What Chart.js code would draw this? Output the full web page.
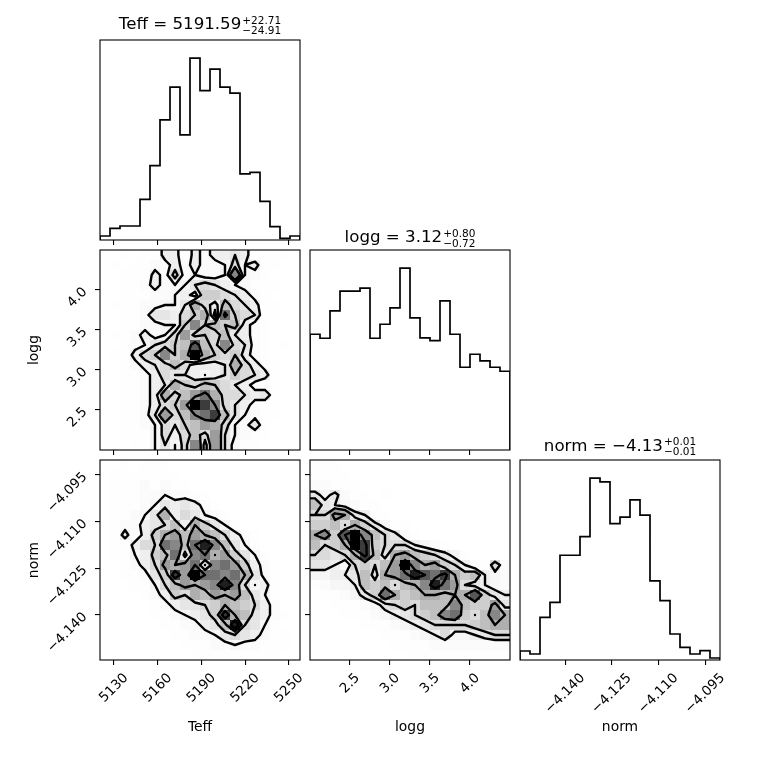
<!DOCTYPE html>
<html>
<head>
<meta charset="utf-8">
<script src="https://cdn.jsdelivr.net/npm/chart.js@4.4.0/dist/chart.umd.min.js"></script>
<style>
  html, body { margin: 0; padding: 0; background: #fff; }
  #wrap { position: relative; width: 760px; height: 760px; }
  #wrap canvas { position: absolute; left: 0; top: 0; }
</style>
</head>
<body>
<div id="wrap"></div>
<script>
// parameter names, axis ranges and ticks
const names = ["Teff", "logg", "norm"];
const ranges = [[5120.4, 5257.6], [2.0, 4.5], [-4.1545, -4.0902]];
const tickValues = [
  [5130, 5160, 5190, 5220, 5250],
  [2.5, 3.0, 3.5, 4.0],
  [-4.140, -4.125, -4.110, -4.095]
];
const tickLabels = [
  ["5130", "5160", "5190", "5220", "5250"],
  ["2.5", "3.0", "3.5", "4.0"],
  ["\u22124.140", "\u22124.125", "\u22124.110", "\u22124.095"]
];
const titleMain = ["Teff = 5191.59", "logg = 3.12", "norm = \u22124.13"];
const titleUp = ["+22.71", "+0.80", "+0.01"];
const titleDown = ["\u221224.91", "\u22120.72", "\u22120.01"];

// 1D histograms, 20 bins each
const teffHist = [12, 35, 42, 42, 122, 223, 360, 458, 315, 545, 448, 512, 458, 440, 198, 203, 116, 40, 5, 12];
const loggHist = [347, 335, 417, 476, 476, 485, 335, 377, 426, 545, 396, 336, 328, 447, 347, 248, 287, 267, 248, 236];
const normHist = [27, 18, 128, 173, 314, 314, 370, 545, 534, 409, 428, 480, 434, 237, 178, 78, 38, 18, 28, 6];

// 2D histograms, rows from top (high y) to bottom, columns left to right
const teffLoggGrid = [
  [0,0,1,0,1,1,4,4,1,4,2,4,4,5,4,1,1,1,1,0],
  [0,1,0,1,1,2,2,4,2,4,2,2,3,6,3,4,1,1,0,0],
  [0,0,1,1,1,4,2,6,2,3,2,2,3,11,3,2,1,0,0,0],
  [0,0,1,1,2,4,2,3,3,5,6,5,4,3,2,1,1,1,0,0],
  [0,0,1,1,1,2,2,3,4,2,7,7,6,5,4,2,1,0,0,0],
  [0,1,1,1,2,2,3,3,5,9,6,4,8,6,5,4,1,1,0,0],
  [0,0,1,1,2,5,5,4,6,7,9,2,12,7,6,5,1,1,0,0],
  [0,0,1,1,2,2,3,3,7,11,7,8,7,8,4,2,1,0,0,0],
  [0,1,1,2,4,2,3,6,10,6,7,6,8,5,4,2,1,0,0,0],
  [0,0,1,2,3,5,6,7,8,13,8,6,11,6,5,2,1,0,1,0],
  [0,1,1,4,6,7,11,7,9,16,9,7,6,7,4,2,1,0,0,0],
  [0,0,1,2,4,5,6,8,6,4,4,4,5,9,6,4,2,1,0,0],
  [0,0,1,1,2,4,6,5,5,4,3,4,5,7,6,5,4,1,0,0],
  [0,0,1,1,2,4,5,9,7,6,8,7,6,5,4,2,1,1,0,0],
  [0,0,1,1,2,4,9,6,8,10,12,9,6,6,5,4,5,1,0,0],
  [0,0,1,1,2,4,6,7,10,16,14,11,6,5,4,2,1,1,0,0],
  [0,0,1,1,2,5,10,6,8,11,12,14,8,5,3,2,1,1,0,0],
  [0,0,1,1,2,3,6,5,7,8,10,9,6,3,2,5,1,0,0,0],
  [0,0,1,1,1,3,6,4,6,8,6,10,5,3,2,1,1,0,0,0],
  [0,0,0,1,1,3,5,3,6,11,4,10,5,2,1,1,0,0,0,0]
];
const teffNormGrid = [
  [0,0,1,0,1,1,1,0,0,0,0,0,0,0,0,0,0,0,0,0],
  [0,1,1,1,1,1,1,1,0,0,0,0,0,0,0,0,0,0,0,0],
  [0,1,1,1,2,1,2,1,1,0,0,0,0,0,0,0,0,0,0,0],
  [0,1,1,1,2,2,3,2,2,1,1,0,0,0,0,0,0,0,0,0],
  [0,1,1,1,2,3,5,4,5,4,2,1,0,0,0,0,0,0,0,0],
  [0,1,1,2,3,5,9,4,6,5,3,2,1,0,0,0,0,0,0,0],
  [0,1,2,2,4,5,6,8,4,9,7,5,3,1,0,0,0,0,0,0],
  [0,1,4,1,4,7,9,10,8,10,9,8,6,4,2,1,0,0,0,0],
  [0,1,1,4,6,6,12,11,8,12,15,11,8,5,3,1,0,0,0,0],
  [0,1,1,3,4,7,8,12,5,11,12,9,10,7,5,3,1,0,0,0],
  [0,0,1,2,4,6,10,9,10,12,6,11,12,10,7,4,2,1,0,0],
  [0,0,1,1,2,5,7,14,10,16,12,12,11,12,9,5,2,1,0,0],
  [0,0,0,1,1,3,6,8,10,9,10,11,15,11,6,3,4,1,0,0],
  [0,0,0,0,1,2,4,7,6,9,8,10,9,10,8,5,3,1,0,0],
  [0,0,0,0,0,1,2,4,5,5,6,7,9,8,7,6,4,2,0,0],
  [0,0,0,0,0,1,1,2,3,4,5,7,14,9,8,5,4,2,1,0],
  [0,0,0,0,0,0,1,1,2,2,4,5,8,15,6,5,3,1,0,0],
  [0,0,0,0,0,0,0,1,1,2,2,3,5,6,5,4,2,1,1,0],
  [0,0,0,0,0,0,0,0,1,1,1,2,2,3,2,2,1,1,1,0],
  [0,0,0,0,0,0,0,0,0,1,1,1,1,1,1,1,1,1,0,0]
];
const loggNormGrid = [
  [1,1,1,0,0,0,0,0,0,0,0,0,0,0,0,0,0,0,0,0],
  [1,1,1,1,0,0,0,0,0,0,0,0,0,0,0,0,0,0,0,0],
  [2,2,1,1,1,0,0,0,0,0,0,0,0,0,0,0,0,0,0,0],
  [5,3,5,2,1,1,0,1,0,0,0,0,0,0,0,0,0,0,0,0],
  [8,5,4,3,2,1,1,0,0,0,0,0,0,0,0,0,0,0,0,0],
  [6,6,10,9,5,4,1,1,0,0,0,0,0,0,0,0,0,0,0,0],
  [7,7,8,6,9,7,5,3,1,1,0,0,0,0,0,0,0,0,0,0],
  [9,11,7,13,16,11,8,6,5,2,1,0,0,0,0,0,0,0,0,0],
  [8,6,7,9,16,14,7,6,6,6,4,3,2,1,0,0,0,0,0,0],
  [6,6,5,6,9,14,8,5,9,10,8,7,6,5,3,1,0,0,0,0],
  [5,5,4,2,6,7,6,8,10,16,11,9,10,7,6,4,2,1,6,2],
  [3,3,4,4,5,8,5,9,10,12,15,13,12,14,9,7,8,4,3,2],
  [1,2,3,3,4,8,7,8,6,8,9,11,15,12,10,6,5,4,3,2],
  [0,1,1,2,3,5,7,12,9,7,8,9,9,8,9,9,13,7,5,4],
  [0,0,1,1,1,2,3,5,6,7,6,8,8,8,11,8,7,7,10,5],
  [0,0,0,1,1,1,2,3,4,5,6,7,8,11,12,7,6,8,11,9],
  [0,0,0,0,0,1,1,1,2,3,4,5,6,6,6,6,7,8,9,9],
  [0,0,0,0,0,0,0,1,1,1,2,3,4,6,3,3,4,5,6,6],
  [0,0,0,0,0,0,0,0,1,1,1,1,2,2,2,2,2,2,2,2],
  [0,0,0,0,0,0,0,0,0,0,1,1,1,1,1,1,1,1,1,1]
];

const panelX = [100, 310, 520];
const panelY = [40, 250, 460];
const SIZE = 200;
const titleOffset = [-10.7, -7.7, -9.3];
const TICK_FONT = "13.5px 'DejaVu Sans'";
const LABEL_FONT = "13.9px 'DejaVu Sans'";
const TITLE_FONT = "16.67px 'DejaVu Sans'";
const SCRIPT_FONT = "10.5px 'DejaVu Sans'";

Chart.defaults.font.family = "'DejaVu Sans', sans-serif";
Chart.defaults.animation = false;

const wrap = document.getElementById("wrap");

function makeCanvas() {
  const c = document.createElement("canvas");
  c.width = 760;
  c.height = 760;
  c.style.width = "760px";
  c.style.height = "760px";
  wrap.appendChild(c);
  return c;
}

function axisCfg(v, position) {
  return {
    type: "linear",
    position: position,
    min: ranges[v][0],
    max: ranges[v][1],
    afterBuildTicks: (s) => { s.ticks = tickValues[v].map((t) => ({ value: t })); },
    afterFit: (s) => { if (position === "left") s.width = 0; else s.height = 0; },
    grid: { drawOnChartArea: false, drawTicks: true, tickLength: 5, color: "#000", lineWidth: 1.1 },
    border: { display: false },
    ticks: { display: false }
  };
}

// corner.py style contour levels (0.5, 1, 1.5, 2 sigma)
function cornerLevels(H) {
  const flat = H.flat().slice().sort((a, b) => b - a);
  const total = flat.reduce((s, x) => s + x, 0);
  let cum = 0;
  const sm = flat.map((x) => (cum += x) / total);
  let V = [0.5, 1, 1.5, 2].map((s) => {
    const l = 1 - Math.exp(-0.5 * s * s);
    let val = flat[0];
    for (let i = 0; i < flat.length; i++) if (sm[i] <= l) val = flat[i];
    return val;
  });
  V.sort((a, b) => a - b);
  for (let guard = 0; guard < 20; guard++) {
    const k = V.findIndex((x, i) => i > 0 && x === V[i - 1]);
    if (k < 0) break;
    V[k - 1] *= 1 - 1e-4;
    V.sort((a, b) => a - b);
  }
  return V;
}

function marching(Z, xs, ys, lv) {
  const segs = [];
  const lerp = (p0, p1, z0, z1) => p0 + (lv - z0) / (z1 - z0) * (p1 - p0);
  for (let a = 0; a < xs.length - 1; a++) {
    for (let b = 0; b < ys.length - 1; b++) {
      const z00 = Z[a][b], z10 = Z[a + 1][b], z11 = Z[a + 1][b + 1], z01 = Z[a][b + 1];
      let c = 0;
      if (z00 > lv) c |= 1;
      if (z10 > lv) c |= 2;
      if (z11 > lv) c |= 4;
      if (z01 > lv) c |= 8;
      if (c === 0 || c === 15) continue;
      const B = () => [lerp(xs[a], xs[a + 1], z00, z10), ys[b]];
      const R = () => [xs[a + 1], lerp(ys[b], ys[b + 1], z10, z11)];
      const T = () => [lerp(xs[a], xs[a + 1], z01, z11), ys[b + 1]];
      const L = () => [xs[a], lerp(ys[b], ys[b + 1], z00, z01)];
      const mid = (z00 + z10 + z11 + z01) / 4 > lv;
      const add = (p, q) => segs.push([p[0], p[1], q[0], q[1]]);
      switch (c) {
        case 1: case 14: add(L(), B()); break;
        case 2: case 13: add(B(), R()); break;
        case 3: case 12: add(L(), R()); break;
        case 4: case 11: add(R(), T()); break;
        case 6: case 9: add(B(), T()); break;
        case 7: case 8: add(L(), T()); break;
        case 5:
          if (mid) { add(L(), T()); add(B(), R()); } else { add(L(), B()); add(R(), T()); }
          break;
        case 10:
          if (mid) { add(L(), B()); add(R(), T()); } else { add(B(), R()); add(L(), T()); }
          break;
      }
    }
  }
  return segs;
}

function densityLayer(grid, xv, yv) {
  const ny = grid.length, nx = grid[0].length;
  const H = [];
  for (let a = 0; a < nx; a++) {
    H.push([]);
    for (let b = 0; b < ny; b++) H[a].push(grid[ny - 1 - b][a]);
  }
  const levels = cornerLevels(H);
  const hmax = Math.max(...H.flat());
  const [x0, x1] = ranges[xv], [y0, y1] = ranges[yv];
  const dx = (x1 - x0) / nx, dy = (y1 - y0) / ny;
  const xs = [], ys = [], Z = [];
  for (let a = -2; a < nx + 2; a++) xs.push(x0 + (a + 0.5) * dx);
  for (let b = -2; b < ny + 2; b++) ys.push(y0 + (b + 0.5) * dy);
  for (let a = -2; a < nx + 2; a++) {
    const col = [];
    for (let b = -2; b < ny + 2; b++) {
      if (a < -1 || a > nx || b < -1 || b > ny) col.push(0);
      else col.push(H[Math.min(nx - 1, Math.max(0, a))][Math.min(ny - 1, Math.max(0, b))]);
    }
    Z.push(col);
  }
  return {
    id: "density",
    beforeDatasetsDraw(chart) {
      const ctx = chart.ctx, sx = chart.scales.x, sy = chart.scales.y, area = chart.chartArea;
      ctx.save();
      for (let a = 0; a < nx; a++) {
        for (let b = 0; b < ny; b++) {
          const f = H[a][b] / hmax;
          if (f <= 0) continue;
          const l = Math.round(sx.getPixelForValue(x0 + a * dx));
          const r = Math.round(sx.getPixelForValue(x0 + (a + 1) * dx));
          const t = Math.round(sy.getPixelForValue(y0 + (b + 1) * dy));
          const bt = Math.round(sy.getPixelForValue(y0 + b * dy));
          const g = Math.round(255 * (1 - f));
          ctx.fillStyle = `rgba(${g},${g},${g},${f})`;
          ctx.fillRect(l, t, r - l, bt - t);
        }
      }
      ctx.beginPath();
      ctx.rect(area.left, area.top, area.right - area.left, area.bottom - area.top);
      ctx.clip();
      ctx.strokeStyle = "#000";
      ctx.lineWidth = 2.4;
      ctx.lineCap = "round";
      ctx.lineJoin = "round";
      levels.forEach((lv) => {
        const segs = marching(Z, xs, ys, lv);
        ctx.beginPath();
        segs.forEach((s) => {
          ctx.moveTo(sx.getPixelForValue(s[0]), sy.getPixelForValue(s[1]));
          ctx.lineTo(sx.getPixelForValue(s[2]), sy.getPixelForValue(s[3]));
        });
        ctx.stroke();
      });
      ctx.restore();
    }
  };
}

function rotatedText(ctx, s, x, y, ang) {
  ctx.save();
  ctx.translate(x, y);
  ctx.rotate(ang);
  ctx.fillText(s, 0, 0);
  ctx.restore();
}

function textLayer(p) {
  return {
    id: "texts",
    afterDraw(chart) {
      const ctx = chart.ctx, a = chart.chartArea;
      ctx.save();
      ctx.strokeStyle = "#000";
      ctx.lineWidth = 1.1;
      ctx.strokeRect(a.left, a.top, a.right - a.left, a.bottom - a.top);
      ctx.fillStyle = "#000";
      if (p.xLabels) {
        ctx.font = TICK_FONT;
        ctx.textAlign = "right";
        ctx.textBaseline = "middle";
        tickValues[p.xv].forEach((t, k) => {
          const s = tickLabels[p.xv][k];
          const w = ctx.measureText(s).width;
          rotatedText(ctx, s, chart.scales.x.getPixelForValue(t) + 0.3536 * w, a.bottom + 16, -Math.PI / 4);
        });
        ctx.font = LABEL_FONT;
        ctx.textAlign = "center";
        ctx.textBaseline = "alphabetic";
        ctx.fillText(names[p.xv], (a.left + a.right) / 2, a.bottom + 71);
      }
      if (p.yLabels) {
        ctx.font = TICK_FONT;
        ctx.textAlign = "right";
        ctx.textBaseline = "middle";
        tickValues[p.yv].forEach((t, k) => {
          rotatedText(ctx, tickLabels[p.yv][k], a.left - 15, chart.scales.y.getPixelForValue(t), -Math.PI / 4);
        });
        ctx.font = LABEL_FONT;
        ctx.textAlign = "center";
        ctx.textBaseline = "alphabetic";
        rotatedText(ctx, names[p.yv], a.left - 62.5, (a.top + a.bottom) / 2, -Math.PI / 2);
      }
      if (p.title) {
        const v = p.xv;
        ctx.textAlign = "left";
        ctx.textBaseline = "alphabetic";
        ctx.font = TITLE_FONT;
        const wm = ctx.measureText(titleMain[v]).width;
        ctx.font = SCRIPT_FONT;
        const ws = Math.max(ctx.measureText(titleUp[v]).width, ctx.measureText(titleDown[v]).width);
        const x = (a.left + a.right) / 2 - (wm + 1 + ws) / 2;
        const yb = a.top + titleOffset[v];
        ctx.font = TITLE_FONT;
        ctx.fillText(titleMain[v], x, yb);
        ctx.font = SCRIPT_FONT;
        ctx.fillText(titleUp[v], x + wm + 1, yb - 5.8);
        ctx.fillText(titleDown[v], x + wm + 1, yb + 4.3);
      }
      ctx.restore();
    }
  };
}

function padding(row, col) {
  return { left: panelX[col], top: panelY[row], right: 760 - panelX[col] - SIZE, bottom: 760 - panelY[row] - SIZE };
}

// diagonal histograms
const hists = [teffHist, loggHist, normHist];
hists.forEach((h, v) => {
  const [lo, hi] = ranges[v];
  const w = (hi - lo) / h.length;
  const pts = [{ x: lo, y: 0 }];
  h.forEach((c, k) => pts.push({ x: lo + k * w, y: c }));
  pts.push({ x: hi, y: h[h.length - 1] });
  pts.push({ x: hi, y: 0 });
  new Chart(makeCanvas(), {
    type: "line",
    data: {
      datasets: [{
        data: pts, stepped: "before", borderColor: "#000", borderWidth: 1.7,
        pointRadius: 0, fill: false
      }]
    },
    options: {
      responsive: false,
      layout: { padding: padding(v, v), autoPadding: false },
      plugins: { legend: { display: false }, tooltip: { enabled: false } },
      scales: {
        x: axisCfg(v, "bottom"),
        y: { type: "linear", display: false, min: 0, max: 1.1 * Math.max(...h) }
      }
    },
    plugins: [textLayer({ xv: v, xLabels: v === 2, title: true })]
  });
});

// 2D panels
const pairs = [
  { row: 1, col: 0, xv: 0, yv: 1, grid: teffLoggGrid, xLabels: false, yLabels: true },
  { row: 2, col: 0, xv: 0, yv: 2, grid: teffNormGrid, xLabels: true, yLabels: true },
  { row: 2, col: 1, xv: 1, yv: 2, grid: loggNormGrid, xLabels: true, yLabels: false }
];
pairs.forEach((p) => {
  new Chart(makeCanvas(), {
    type: "scatter",
    data: { datasets: [{ data: [] }] },
    options: {
      responsive: false,
      layout: { padding: padding(p.row, p.col), autoPadding: false },
      plugins: { legend: { display: false }, tooltip: { enabled: false } },
      scales: { x: axisCfg(p.xv, "bottom"), y: axisCfg(p.yv, "left") }
    },
    plugins: [densityLayer(p.grid, p.xv, p.yv), textLayer(p)]
  });
});
</script>
</body>
</html>
